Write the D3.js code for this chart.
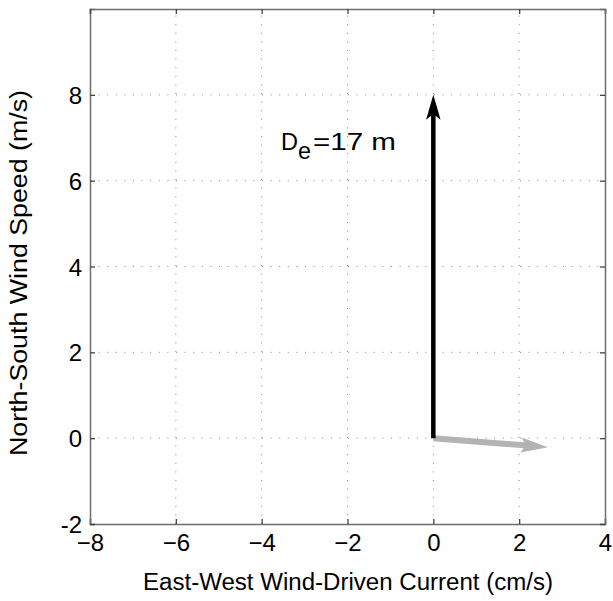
<!DOCTYPE html>
<html><head><meta charset="utf-8">
<script src="https://cdn.jsdelivr.net/npm/d3@7"></script>
<style>body{margin:0;background:#fff}svg{display:block}text{font-family:"Liberation Sans",Arial,sans-serif;fill:#000}</style>
</head><body><svg id="c" width="613" height="601"></svg>
<script>
const xTicks = [-8,-6,-4,-2,0,2,4];
const yTicks = [-2,0,2,4,6,8];
const arrowNames = ["current","wind"];
const arrowX0 = [0,0];
const arrowY0 = [0,0];
const arrowU = [2.67,0];
const arrowV = [-0.21,8];
const arrowColors = ["#b3b3b3","#000000"];
const annotationMain = "D", annotationSub = "e", annotationRest = "=17 m";

const svg = d3.select("#c");
const L=90,R=605,T=9,B=524;
const x = d3.scaleLinear().domain([-8,4]).range([L,R]);
const y = d3.scaleLinear().domain([-2,10]).range([B,T]);

// grid
const g = svg.append("g");
g.selectAll(".gx").data(xTicks.slice(1,-1)).join("line")
 .attr("x1",d=>x(d)).attr("x2",d=>x(d)).attr("y1",B).attr("y2",T)
 .attr("stroke","#888").attr("stroke-width",1).attr("stroke-dasharray","1,7.6");
g.selectAll(".gy").data(yTicks.slice(1)).join("line")
 .attr("y1",d=>y(d)).attr("y2",d=>y(d)).attr("x1",L).attr("x2",R)
 .attr("stroke","#888").attr("stroke-width",1).attr("stroke-dasharray","1,7.6");

// axes
const fmtX = d=> d<0 ? "\u2212"+Math.abs(d) : String(d);
const ax = svg.append("g").attr("transform",`translate(0,${B})`)
 .call(d3.axisBottom(x).tickValues(xTicks).tickSize(-5).tickPadding(8).tickFormat(fmtX));
const ay = svg.append("g").attr("transform",`translate(${L},0)`)
 .call(d3.axisLeft(y).tickValues(yTicks).tickSize(-5).tickPadding(8).tickFormat(d=>String(d)));
const axT = svg.append("g").attr("transform",`translate(0,${T})`)
 .call(d3.axisTop(x).tickValues(xTicks).tickSize(-5).tickFormat(""));
const axR = svg.append("g").attr("transform",`translate(${R},0)`)
 .call(d3.axisRight(y).tickValues(yTicks).tickSize(-5).tickFormat(""));
[ax,ay,axT,axR].forEach(a=>{
  a.attr("font-size",null).attr("font-family",null);
  a.select(".domain").attr("stroke","#6e6e6e").attr("stroke-width",1.5);
  a.selectAll(".tick line").attr("stroke","#444").attr("stroke-width",1.3);
  a.selectAll(".tick text").style("font-size","24px").attr("fill","#000")
   .style("font-family",'"Liberation Sans",Arial,sans-serif');
});
ax.selectAll(".tick text").attr("y",4).attr("dy","0.95em");
ay.selectAll(".tick text").attr("dy","0.36em");

// arrows (quiver-style)
function arrowPath(x0,y0,x1,y1,w,hl,hal,hw){
  const dx=x1-x0, dy=y1-y0, len=Math.hypot(dx,dy);
  const ux=dx/len, uy=dy/len, px=-uy, py=ux;
  const P=(a,b)=>[x0+ux*a+px*b, y0+uy*a+py*b];
  const pts=[P(0,-w/2),P(len-hal,-w/2),P(len-hl,-hw/2),P(len,0),P(len-hl,hw/2),P(len-hal,w/2),P(0,w/2)];
  return "M"+pts.map(p=>p[0].toFixed(2)+","+p[1].toFixed(2)).join("L")+"Z";
}
const specs=[{w:6,hl:27,hal:24,hw:15},{w:4.5,hl:25,hal:21,hw:14.5}];
svg.append("g").selectAll("path").data(arrowNames).join("path")
 .attr("d",(d,i)=>arrowPath(x(arrowX0[i]),y(arrowY0[i]),x(arrowX0[i]+arrowU[i]),y(arrowY0[i]+arrowV[i]),specs[i].w,specs[i].hl,specs[i].hal,specs[i].hw))
 .attr("fill",(d,i)=>arrowColors[i]);

// annotation
const ann = svg.append("g").style("font-size","23px");
ann.append("text").attr("x",281).attr("y",150).attr("textLength",17).attr("lengthAdjust","spacingAndGlyphs").text(annotationMain);
ann.append("text").attr("x",298).attr("y",159).attr("textLength",13).attr("lengthAdjust","spacingAndGlyphs").text(annotationSub);
ann.append("text").attr("x",313).attr("y",150).attr("textLength",83).attr("lengthAdjust","spacingAndGlyphs").text(annotationRest);

// axis labels
svg.append("text").attr("x",143).attr("y",590).style("font-size","23px")
 .attr("textLength",410).attr("lengthAdjust","spacingAndGlyphs")
 .text("East-West Wind-Driven Current (cm/s)");
svg.append("text").attr("transform","translate(27,456) rotate(-90)").style("font-size","23px")
 .attr("textLength",366).attr("lengthAdjust","spacingAndGlyphs")
 .text("North-South Wind Speed (m/s)");
</script></body></html>
